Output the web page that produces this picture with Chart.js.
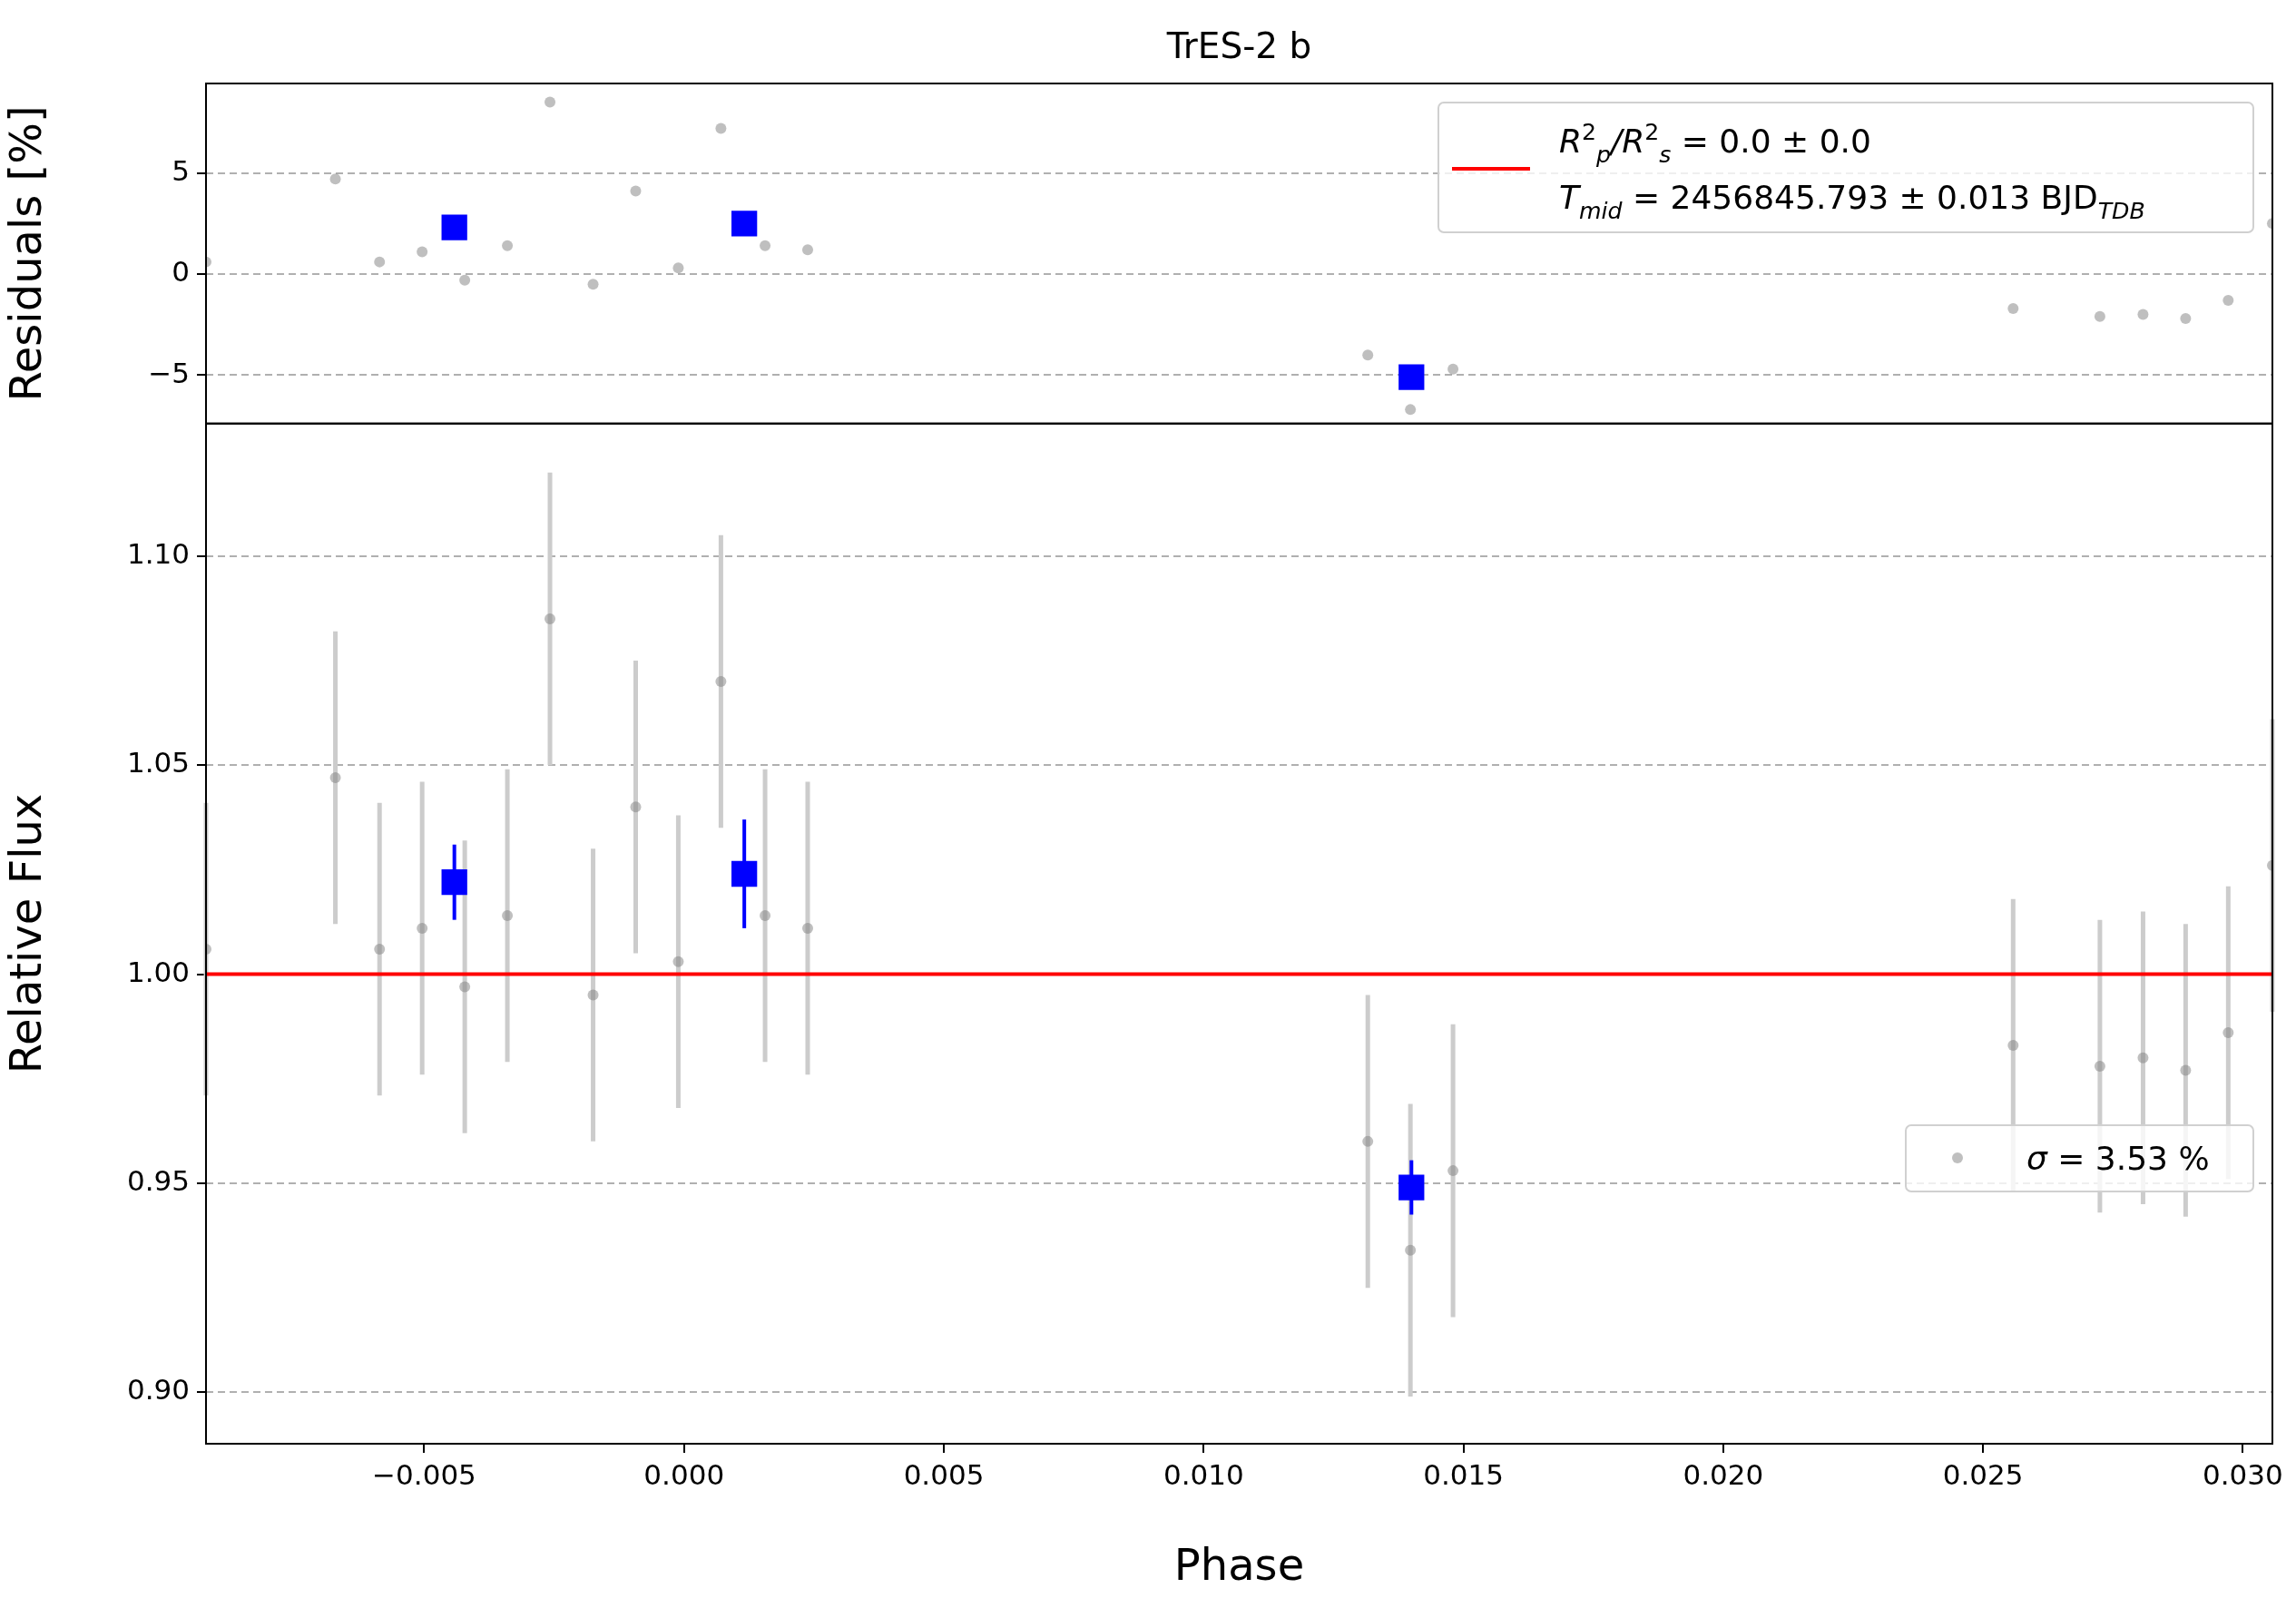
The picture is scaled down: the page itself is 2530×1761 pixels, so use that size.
<!DOCTYPE html>
<html><head><meta charset="utf-8">
<script src="https://cdn.jsdelivr.net/npm/chart.js@4/dist/chart.umd.min.js"></script>
<style>html,body{margin:0;background:#fff}#wrap{width:2530px;height:1761px}</style>
</head><body><div id="wrap"><canvas id="c" width="2530" height="1761" style="width:2530px;height:1761px"></canvas></div>
<script>
// --- DATA ---
const phase = [-0.0092,-0.00671,-0.00586,-0.00504,-0.00422,-0.0034,-0.00258,-0.00175,-0.00093,-0.00011,0.00071,0.00156,0.00238,0.01316,0.01398,0.0148,0.02558,0.02725,0.02808,0.0289,0.02972,0.03057];
const flux = [1.006,1.047,1.006,1.011,0.997,1.014,1.085,0.995,1.040,1.003,1.070,1.014,1.011,0.960,0.934,0.953,0.983,0.978,0.980,0.977,0.986,1.026];
const fluxErr = [0.035,0.035,0.035,0.035,0.035,0.035,0.035,0.035,0.035,0.035,0.035,0.035,0.035,0.035,0.035,0.035,0.035,0.035,0.035,0.035,0.035,0.035];
const resid = [0.6,4.7,0.6,1.1,-0.3,1.4,8.5,-0.5,4.1,0.3,7.2,1.4,1.2,-4.0,-6.7,-4.7,-1.7,-2.1,-2.0,-2.2,-1.3,2.5];
const binPhase = [-0.00442,0.00116,0.0140];
const binFlux = [1.022,1.024,0.949];
const binErr = [0.009,0.013,0.0065];
const binResid = [2.3,2.5,-5.1];
const xTicks = [-0.005,0,0.005,0.010,0.015,0.020,0.025,0.030];
const fluxTicks = [0.90,0.95,1.00,1.05,1.10];
const residTicks = [-5,0,5];
const X_MIN = -0.0092, X_MAX = 0.03057;

const FONT = 'DejaVu Sans';
const minus = s => s.replace('-', '\u2212');

function pts(xs, ys){ return xs.map((x,i)=>({x, y:ys[i]})); }

// --- HELPERS ---
function drawRich(ctx, x, y, parts, size){
  parts.forEach(p=>{
    const s = p.pos ? size*0.7 : size;
    ctx.font = (p.it ? 'italic ' : '') + s + 'px ' + FONT;
    const dy = p.pos==='sup' ? -size*0.4 : p.pos==='sub' ? size*0.3 : 0;
    ctx.fillText(p.t, x, y+dy);
    x += ctx.measureText(p.t).width;
  });
}

const framePlugin = {
  id:'frame',
  beforeDatasetsDraw(chart){
    const {ctx, scales} = chart;
    const x = scales.x;
    ctx.save();
    ctx.lineWidth = 5;
    ctx.strokeStyle = '#cccccc';
    phase.forEach((p,i)=>{
      const px = x.getPixelForValue(p);
      ctx.beginPath();
      ctx.moveTo(px, scales.y.getPixelForValue(flux[i]-fluxErr[i]));
      ctx.lineTo(px, scales.y.getPixelForValue(flux[i]+fluxErr[i]));
      ctx.stroke();
    });
    ctx.strokeStyle = '#0000ff';
    ctx.lineWidth = 4;
    binPhase.forEach((p,i)=>{
      const px = x.getPixelForValue(p);
      ctx.beginPath();
      ctx.moveTo(px, scales.y.getPixelForValue(binFlux[i]-binErr[i]));
      ctx.lineTo(px, scales.y.getPixelForValue(binFlux[i]+binErr[i]));
      ctx.stroke();
    });
    ctx.restore();
  },
  afterDraw(chart){
    const {ctx, scales, chartArea} = chart;
    ctx.save();
    ctx.strokeStyle = '#000'; ctx.lineWidth = 2;
    ctx.strokeRect(chartArea.left, scales.y.top, chartArea.right-chartArea.left, scales.y.bottom-scales.y.top);
    ctx.strokeRect(chartArea.left, scales.y2.top, chartArea.right-chartArea.left, scales.y2.bottom-scales.y2.top);
    // title
    ctx.fillStyle = '#000'; ctx.textAlign = 'center'; ctx.textBaseline = 'alphabetic';
    ctx.font = '39px ' + FONT;
    ctx.fillText('TrES-2 b', (chartArea.left+chartArea.right)/2, 64);
    // top legend
    ctx.fillStyle = 'rgba(255,255,255,0.8)'; ctx.strokeStyle = '#d0d0d0'; ctx.lineWidth = 2;
    ctx.beginPath(); ctx.roundRect(1585,113,898,143,6); ctx.fill(); ctx.stroke();
    ctx.strokeStyle = '#ff0000'; ctx.lineWidth = 4;
    ctx.beginPath(); ctx.moveTo(1600,186); ctx.lineTo(1686,186); ctx.stroke();
    ctx.fillStyle = '#000'; ctx.textAlign = 'left';
    drawRich(ctx, 1718, 168, [{t:'R',it:1},{t:'2',pos:'sup'},{t:'p',it:1,pos:'sub'},{t:'/',it:1},{t:'R',it:1},{t:'2',pos:'sup'},{t:'s',it:1,pos:'sub'},{t:' = 0.0 \u00b1 0.0'}], 36);
    drawRich(ctx, 1718, 230, [{t:'T',it:1},{t:'mid',it:1,pos:'sub'},{t:' = 2456845.793 \u00b1 0.013 BJD'},{t:'TDB',it:1,pos:'sub'}], 36);
    // bottom legend
    ctx.fillStyle = 'rgba(255,255,255,0.8)'; ctx.strokeStyle = '#d0d0d0'; ctx.lineWidth = 2;
    ctx.beginPath(); ctx.roundRect(2100,1240,383,73,6); ctx.fill(); ctx.stroke();
    ctx.fillStyle = 'rgba(128,128,128,0.5)';
    ctx.beginPath(); ctx.arc(2157,1276,6,0,Math.PI*2); ctx.fill();
    ctx.fillStyle = '#000';
    drawRich(ctx, 2233, 1289, [{t:'\u03c3',it:1},{t:' = 3.53 %'}], 36);
    ctx.restore();
  }
};

const gray = 'rgba(128,128,128,0.5)';
const yAxisBase = {
  afterFit(a){ a.width = 227; },
  grid:{color:'#b0b0b0', lineWidth:2, drawTicks:true, tickLength:10, tickColor:'#000', tickBorderDash:[]},
  border:{display:false, dash:[8,5]},
  ticks:{color:'#000', font:{family:FONT, size:31}, padding:8}
};

new Chart(document.getElementById('c'), {
  type:'scatter',
  data:{datasets:[
    {data:pts([X_MIN,X_MAX],[1,1]), type:'line', borderColor:'#ff0000', borderWidth:4, pointRadius:0, yAxisID:'y', order:1},
    {data:pts(phase, flux), backgroundColor:gray, borderWidth:0, pointRadius:6, yAxisID:'y', order:3},
    {data:pts(binPhase, binFlux), backgroundColor:'#0000ff', borderWidth:0, pointStyle:'rect', pointRadius:20, yAxisID:'y', order:0},
    {data:pts(phase, resid), backgroundColor:gray, borderWidth:0, pointRadius:6, yAxisID:'y2', order:3},
    {data:pts(binPhase, binResid), backgroundColor:'#0000ff', borderWidth:0, pointStyle:'rect', pointRadius:20, yAxisID:'y2', order:0}
  ]},
  options:{
    responsive:false, animation:false, devicePixelRatio:1,
    layout:{padding:{top:92, right:26, left:0, bottom:0}},
    plugins:{legend:{display:false}, tooltip:{enabled:false}},
    scales:{
      x:{type:'linear', min:X_MIN, max:X_MAX,
        afterFit(a){ a.height = 170; },
        afterBuildTicks(a){ a.ticks = xTicks.map(v=>({value:v})); },
        grid:{drawOnChartArea:false, tickLength:10, color:'#000', lineWidth:2},
        border:{display:false},
        ticks:{color:'#000', font:{family:FONT, size:31}, padding:8, callback:v=>minus(v.toFixed(3))},
        title:{display:true, text:'Phase', color:'#000', font:{family:FONT, size:48}, padding:{top:4}}},
      y:{...yAxisBase, stack:'p', stackWeight:3, min:0.8877, max:1.1317, offset:false,
        afterBuildTicks(a){ a.ticks = fluxTicks.map(v=>({value:v})); },
        ticks:{...yAxisBase.ticks, callback:v=>v.toFixed(2)},
        title:{display:true, text:'Relative Flux', color:'#000', font:{family:FONT, size:48}, padding:{bottom:12}}},
      y2:{...yAxisBase, stack:'p', stackWeight:1, min:-7.39, max:9.42, offset:false,
        afterBuildTicks(a){ a.ticks = residTicks.map(v=>({value:v})); },
        ticks:{...yAxisBase.ticks, callback:v=>minus(String(v))},
        title:{display:true, text:'Residuals [%]', color:'#000', font:{family:FONT, size:48}, padding:{bottom:12}}}
    }
  },
  plugins:[framePlugin]
});
</script>
</body></html>
